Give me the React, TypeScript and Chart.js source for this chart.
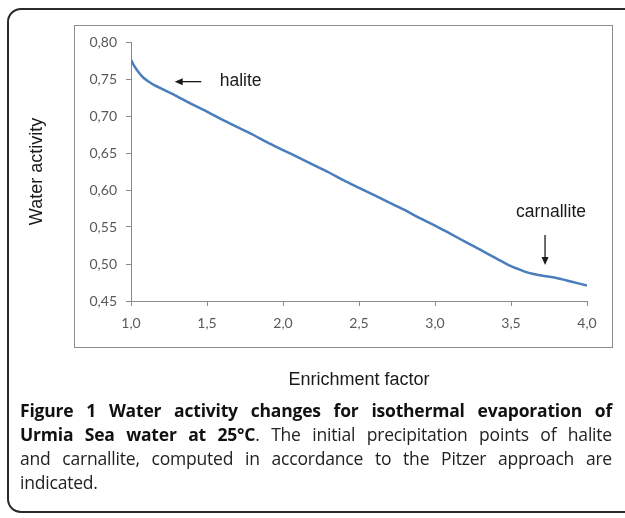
import React, { useEffect, useRef } from "react";
import { Chart, registerables } from "chart.js";

Chart.register(...registerables);

// ---- data ----
const enrichment = [
  1.0, 1.02, 1.05, 1.08, 1.12, 1.16, 1.2, 1.3, 1.4, 1.5, 1.6, 1.7, 1.8, 1.9, 2.0,
  2.1, 2.2, 2.3, 2.4, 2.5, 2.6, 2.7, 2.8, 2.9, 3.0, 3.1, 3.2, 3.3, 3.4, 3.5, 3.55,
  3.6, 3.65, 3.7, 3.8, 3.9, 4.0,
];
const waterActivity = [
  0.776, 0.768, 0.759, 0.752, 0.746, 0.741, 0.737, 0.727, 0.716, 0.706, 0.695,
  0.685, 0.675, 0.664, 0.654, 0.644, 0.634, 0.624, 0.613, 0.603, 0.593, 0.583,
  0.573, 0.562, 0.552, 0.541, 0.53, 0.519, 0.508, 0.497, 0.493, 0.489, 0.4865,
  0.4845, 0.481, 0.476, 0.471,
];
const xRange = [1.0, 4.0];
const xStep = 0.5;
const yRange = [0.45, 0.8];
const yStep = 0.05;
const xTitle = "Enrichment factor";
const yTitle = "Water activity";

// annotation labels (data coordinates)
const annotationLabels = ["halite", "carnallite"];
const annotationTextX = [1.584, 3.763];
const annotationTextY = [0.7477, 0.5707];
const annotationArrowFromX = [1.4625, 3.724];
const annotationArrowFromY = [0.7464, 0.5392];
const annotationArrowToX = [1.2875, 3.724];
const annotationArrowToY = [0.7464, 0.4986];

const captionLines = [
  { bold: "Figure 1 Water activity changes for isothermal evaporation of", normal: "" },
  { bold: "Urmia Sea water at 25°C", normal: ". The initial precipitation points of halite" },
  { bold: "", normal: "and carnallite, computed in accordance to the Pitzer approach are" },
  { bold: "", normal: "indicated." },
];

const fmt = (v: number, d: number) => v.toFixed(d).replace(".", ",");

const annotationPlugin = {
  id: "annotations",
  afterDatasetsDraw(chart: any) {
    const { ctx, scales } = chart;
    const xs = scales.x;
    const ys = scales.y;
    ctx.save();
    ctx.fillStyle = "#1a1a1a";
    ctx.strokeStyle = "#1a1a1a";
    ctx.font = '17.5px "Liberation Sans", Arial, sans-serif';
    ctx.textBaseline = "middle";
    annotationLabels.forEach((label, i) => {
      const tx = xs.getPixelForValue(annotationTextX[i]);
      const ty = ys.getPixelForValue(annotationTextY[i]);
      ctx.textAlign = i === 0 ? "left" : "center";
      ctx.fillText(label, tx, ty);
      const x1 = xs.getPixelForValue(annotationArrowFromX[i]);
      const y1 = ys.getPixelForValue(annotationArrowFromY[i]);
      const x2 = xs.getPixelForValue(annotationArrowToX[i]);
      const y2 = ys.getPixelForValue(annotationArrowToY[i]);
      const ang = Math.atan2(y2 - y1, x2 - x1);
      const head = 8;
      const hw = 3.5;
      ctx.lineWidth = 1.3;
      ctx.beginPath();
      ctx.moveTo(x1, y1);
      ctx.lineTo(x2 - Math.cos(ang) * head * 0.8, y2 - Math.sin(ang) * head * 0.8);
      ctx.stroke();
      ctx.beginPath();
      ctx.moveTo(x2, y2);
      ctx.lineTo(
        x2 - Math.cos(ang) * head - Math.sin(ang) * hw,
        y2 - Math.sin(ang) * head + Math.cos(ang) * hw
      );
      ctx.lineTo(
        x2 - Math.cos(ang) * head + Math.sin(ang) * hw,
        y2 - Math.sin(ang) * head - Math.cos(ang) * hw
      );
      ctx.closePath();
      ctx.fill();
    });
    ctx.restore();
  },
};

export default function App() {
  const ref = useRef<HTMLCanvasElement | null>(null);

  useEffect(() => {
    if (!ref.current) return;
    const tickFont = { family: 'Lato, "Open Sans", sans-serif', size: 14 };
    const titleFont = { family: '"Liberation Sans", Arial, sans-serif', size: 18 };
    const axisColor = "#8a8a8a";
    const chart = new Chart(ref.current, {
      type: "line",
      data: {
        datasets: [
          {
            data: enrichment.map((x, i) => ({ x, y: waterActivity[i] })),
            borderColor: "#4A7EBB",
            borderWidth: 2.5,
            pointRadius: 0,
            fill: false,
            cubicInterpolationMode: "monotone",
          },
        ],
      },
      options: {
        animation: false,
        responsive: false,
        layout: { padding: { left: 0, right: 38, top: 42, bottom: 0 } },
        plugins: { legend: { display: false }, tooltip: { enabled: false } },
        scales: {
          x: {
            type: "linear",
            min: xRange[0],
            max: xRange[1],
            afterFit: (s: any) => {
              s.height = 99;
            },
            ticks: {
              stepSize: xStep,
              color: "#595959",
              font: tickFont,
              padding: 9,
              callback: (v: any) => fmt(Number(v), 1),
              maxRotation: 0,
            },
            grid: {
              drawOnChartArea: false,
              drawTicks: true,
              tickLength: 5,
              color: axisColor,
            },
            border: { display: true, color: axisColor, width: 1 },
            title: {
              display: true,
              text: xTitle,
              color: "#1a1a1a",
              font: titleFont,
              padding: { top: 0, bottom: 9 },
            },
          },
          y: {
            type: "linear",
            min: yRange[0],
            max: yRange[1],
            afterFit: (s: any) => {
              s.width = 131;
            },
            ticks: {
              stepSize: yStep,
              color: "#595959",
              font: tickFont,
              padding: 9,
              callback: (v: any) => fmt(Number(v), 2),
            },
            grid: {
              drawOnChartArea: false,
              drawTicks: true,
              tickLength: 5,
              color: axisColor,
            },
            border: { display: true, color: axisColor, width: 1 },
            title: {
              display: true,
              text: yTitle,
              color: "#1a1a1a",
              font: titleFont,
              padding: { top: 26, bottom: 0 },
            },
          },
        },
      },
      plugins: [annotationPlugin],
    } as any);
    return () => chart.destroy();
  }, []);

  return (
    <div
      style={{
        position: "absolute",
        left: 0,
        top: 0,
        width: 625,
        height: 518,
        overflow: "hidden",
        background: "#fff",
      }}
    >
      <div
        style={{
          position: "absolute",
          left: 7,
          top: 8,
          width: 640,
          height: 505,
          border: "2px solid #2a2a2a",
          borderRadius: 14,
          boxSizing: "border-box",
        }}
      />
      <div
        style={{
          position: "absolute",
          left: 74,
          top: 25,
          width: 539,
          height: 323,
          border: "1px solid #8c8c8c",
          boxSizing: "border-box",
        }}
      />
      <canvas
        ref={ref}
        width={625}
        height={400}
        style={{ position: "absolute", left: 0, top: 0, width: 625, height: 400 }}
      />
      <div
        style={{
          position: "absolute",
          left: 20,
          top: 398,
          width: 592,
          fontFamily: '"Open Sans", "Noto Sans", sans-serif',
          fontSize: 17.5,
          letterSpacing: "-0.2px",
          lineHeight: "24px",
          color: "#222",
        }}
      >
        {captionLines.map((l, i) => (
          <div
            key={i}
            style={{
              textAlign: "justify",
              textAlignLast: i < captionLines.length - 1 ? "justify" : "left",
              whiteSpace: "nowrap",
              overflow: "visible",
            }}
          >
            {l.bold ? <b style={{ color: "#111" }}>{l.bold}</b> : null}
            {l.normal}
          </div>
        ))}
      </div>
    </div>
  );
}
